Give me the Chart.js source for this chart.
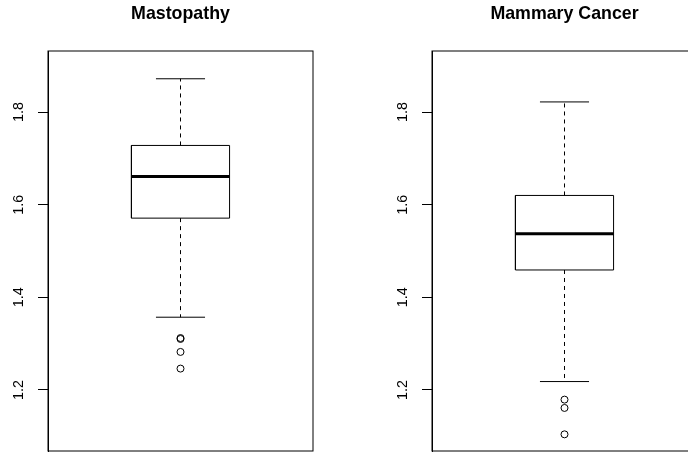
<!DOCTYPE html>
<html>
<head>
<meta charset="utf-8">
<script src="https://cdn.jsdelivr.net/npm/chart.js@4/dist/chart.umd.min.js"></script>
<style>
  html, body { margin: 0; padding: 0; background: #fff; }
  body { width: 688px; height: 453px; overflow: hidden; position: relative; }
  canvas { position: absolute; top: 0; }
</style>
</head>
<body>
<canvas id="c0" width="384" height="453" style="left:0px"></canvas>
<canvas id="c1" width="384" height="453" style="left:384px"></canvas>
<script>
// Summary statistics of each group (box-and-whisker)
const groups = ['Mastopathy', 'Mammary Cancer'];
const upperWhisker = [1.872, 1.822];
const q3 = [1.728, 1.620];
const median = [1.661, 1.537];
const q1 = [1.571, 1.459];
const lowerWhisker = [1.357, 1.218];
const outliers = [[1.312, 1.310, 1.282, 1.246], [1.179, 1.161, 1.104]];
const yTicks = [1.2, 1.4, 1.6, 1.8];
const yLimits = [1.1, 1.9];

// One box per panel, centred at x = 1 on a 0.5..1.5 range (4% extended)
const CENTER = 1, BOX_HALF = 0.2, STAPLE_HALF = 0.1;
const pad = (yLimits[1] - yLimits[0]) * 0.04;
const FONT = "'Liberation Sans', Arial, Helvetica, sans-serif";

// Plot frame and panel title
const framePlugin = {
  id: 'frame',
  afterDraw(chart, args, opts) {
    const { ctx, chartArea: a } = chart;
    ctx.save();
    ctx.strokeStyle = '#000';
    ctx.lineWidth = 1;
    ctx.strokeRect(a.left, a.top, a.right - a.left, a.bottom - a.top);
    ctx.fillStyle = '#000';
    ctx.font = 'bold 17.8px ' + FONT;
    ctx.textAlign = 'center';
    ctx.textBaseline = 'alphabetic';
    ctx.fillText(opts.text, (a.left + a.right) / 2, 18.5);
    ctx.restore();
  }
};

function line(points, width, dash) {
  return { type: 'line', data: points, borderColor: '#000', borderWidth: width, borderDash: dash || [], pointRadius: 0, tension: 0, fill: false };
}

function makeBox(i) {
  const lo = lowerWhisker[i], hi = upperWhisker[i];
  const L = CENTER - BOX_HALF, R = CENTER + BOX_HALF;
  return [
    line([{x: L, y: q1[i]}, {x: R, y: q1[i]}, {x: R, y: q3[i]}, {x: L, y: q3[i]}, {x: L, y: q1[i]}], 1),
    line([{x: L, y: median[i]}, {x: R, y: median[i]}], 3),
    line([{x: CENTER, y: q3[i]}, {x: CENTER, y: hi}], 1, [4, 4]),
    line([{x: CENTER, y: q1[i]}, {x: CENTER, y: lo}], 1, [4, 4]),
    line([{x: CENTER - STAPLE_HALF, y: hi}, {x: CENTER + STAPLE_HALF, y: hi}], 1),
    line([{x: CENTER - STAPLE_HALF, y: lo}, {x: CENTER + STAPLE_HALF, y: lo}], 1),
    { type: 'scatter', data: outliers[i].map(v => ({x: CENTER, y: v})), showLine: false, pointRadius: 3.5, pointBorderWidth: 1, pointBorderColor: '#000', pointBackgroundColor: 'rgba(0,0,0,0)' }
  ];
}

groups.forEach((name, i) => {
  new Chart(document.getElementById('c' + i), {
    type: 'line',
    data: { datasets: makeBox(i) },
    options: {
      responsive: false, animation: false, events: [],
      layout: { autoPadding: false, padding: { top: 51, bottom: 2, left: 0, right: 71 } },
      plugins: { legend: { display: false }, tooltip: { enabled: false }, frame: { text: name } },
      scales: {
        x: { type: 'linear', display: false, min: 0.46, max: 1.54 },
        y: {
          type: 'linear', min: yLimits[0] - pad, max: yLimits[1] + pad,
          afterBuildTicks: s => { s.ticks = yTicks.map(v => ({ value: v })); },
          afterFit: s => { s.width = 48; s.paddingTop = 0; s.paddingBottom = 0; },
          border: { display: true, color: '#000', width: 1 },
          grid: { drawOnChartArea: false, drawTicks: true, tickLength: 10, color: '#000', lineWidth: 1 },
          ticks: { autoSkip: false, minRotation: 90, maxRotation: 90, crossAlign: 'center', padding: 9, color: '#000', font: { family: FONT, size: 14.4 }, callback: v => v.toFixed(1) }
        }
      }
    },
    plugins: [framePlugin]
  });
});
</script>
</body>
</html>
